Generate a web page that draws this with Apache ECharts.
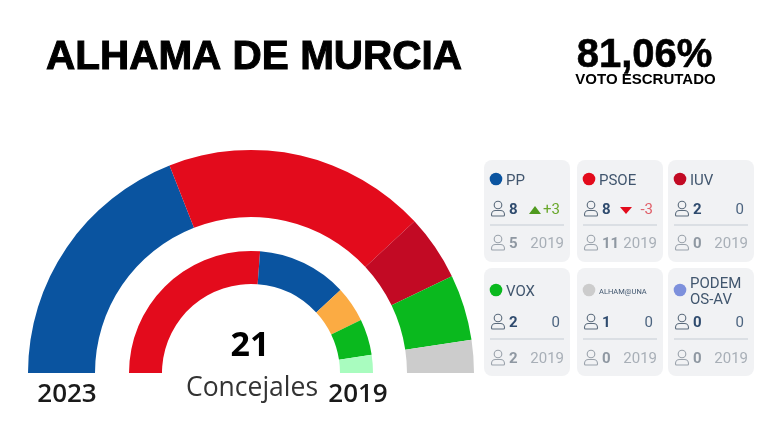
<!DOCTYPE html>
<html>
<head>
<meta charset="utf-8">
<style>
  html, body { margin: 0; padding: 0; background: #fff; }
  #chart { width: 760px; height: 427px; }
</style>
<script src="https://cdn.jsdelivr.net/npm/echarts@6/dist/echarts.min.js"></script>
</head>
<body>
<div id="chart"></div>
<script>
// hemiciclos
const parties2023 = ['PP', 'PSOE', 'IUV', 'VOX', 'ALHAM@UNA']
const seats2023 = [8, 8, 2, 2, 1]
const colors2023 = ['#0a54a0', '#e30b1c', '#c20a24', '#0ab91e', '#cccccc']

const parties2019 = ['PSOE', 'PP', 'Cs', 'VOX', 'Otros']
const seats2019 = [11, 5, 2, 2, 1]
const colors2019 = ['#e30b1c', '#0a54a0', '#fbab43', '#0ab91e', '#a9fcbf']

// tarjetas
const cardNames = ['PP', 'PSOE', 'IUV', 'VOX', 'ALHAM@UNA', 'PODEM\nOS-AV']
const cardColors = ['#0a54a0', '#e30b1c', '#c20a24', '#0ab91e', '#cccccc', '#7d90dc']
const cardSeats = [8, 8, 2, 2, 1, 0]
const cardDiffs = ['+3', '-3', '0', '0', '0', '0']
const cardPrev = [5, 11, 0, 2, 0, 0]

const cardX = [484, 577, 668]
const cardW = 86
const rows = [
  { top: 160, h: 102, dot: 19, icon: 49, line: 65, prev: 83 },
  { top: 268, h: 108, dot: 22, icon: 54, line: 71, prev: 90 },
]

function personIcon(x, cy, color) {
  return [
    { type: 'circle', shape: { cx: x, cy: cy - 4, r: 3.8 }, style: { fill: 'none', stroke: color, lineWidth: 1.1 }, silent: true },
    { type: 'rect', shape: { x: x - 6.5, y: cy + 1.5, width: 13, height: 5.5, r: [4, 4, 1, 1] }, style: { fill: 'none', stroke: color, lineWidth: 1.1 }, silent: true },
  ]
}

function label(x, y, text, size, color, extra) {
  return {
    type: 'text',
    silent: true,
    style: Object.assign({
      x, y, text,
      fontFamily: 'Roboto',
      fontSize: size,
      fill: color,
      align: 'left',
      verticalAlign: 'middle',
    }, extra),
  }
}

function buildCards() {
  const out = []
  cardNames.forEach((name, i) => {
    const x = cardX[i % 3]
    const row = rows[Math.floor(i / 3)]
    const y = row.top
    out.push({ type: 'rect', shape: { x, y, width: cardW, height: row.h, r: 8 }, style: { fill: '#f1f2f4' }, silent: true })
    const small = name.length > 8 && name.indexOf('\n') < 0
    out.push({ type: 'circle', shape: { cx: x + 12, cy: y + row.dot, r: 6.3 }, style: { fill: cardColors[i] }, silent: true })
    out.push(label(x + 22, y + row.dot + 2, name, small ? 7.5 : 15, '#41566e', { lineHeight: 16 }))

    out.push(...personIcon(x + 14, y + row.icon, '#5b6b7c'))
    out.push(label(x + 25, y + row.icon + 1, String(cardSeats[i]), 15, '#2f4b6e', { fontWeight: 'bold' }))
    const d = cardDiffs[i]
    const dColor = d === '+3' ? '#6aa82c' : d === '-3' ? '#e0606a' : '#4d6580'
    out.push(label(x + 76, y + row.icon + 1, d, 15, dColor, { align: 'right' }))
    if (d === '+3') {
      const tx = x + 51
      const ty = y + row.icon
      out.push({ type: 'polygon', shape: { points: [[tx - 6, ty + 5], [tx + 6, ty + 5], [tx, ty - 3]] }, style: { fill: '#4f9a1e' }, silent: true })
    }
    if (d === '-3') {
      const tx = x + 49
      const ty = y + row.icon
      out.push({ type: 'polygon', shape: { points: [[tx - 6, ty - 2], [tx + 6, ty - 2], [tx, ty + 5]] }, style: { fill: '#e30b1c' }, silent: true })
    }

    out.push({ type: 'line', shape: { x1: x + 6, y1: y + row.line, x2: x + 80, y2: y + row.line }, style: { stroke: '#c5cbd3', lineWidth: 1.2 }, silent: true })

    out.push(...personIcon(x + 14, y + row.prev, '#9aa2ab'))
    out.push(label(x + 25, y + row.prev + 1, String(cardPrev[i]), 15, '#8f98a2', { fontWeight: 'bold' }))
    out.push(label(x + 80, y + row.prev + 1, '2019', 15, '#a8afb7', { align: 'right' }))
  })
  return out
}

function pieData(names, seats, colors) {
  return names.map((name, i) => ({ name, value: seats[i], itemStyle: { color: colors[i] } }))
}

const chart = echarts.init(document.getElementById('chart'))

chart.setOption({
  animation: false,
  backgroundColor: '#ffffff',
  series: [
    {
      name: '2023',
      type: 'pie',
      center: [251, 373],
      radius: [156, 223],
      startAngle: 180,
      endAngle: 360,
      silent: true,
      label: { show: false },
      labelLine: { show: false },
      data: pieData(parties2023, seats2023, colors2023),
    },
    {
      name: '2019',
      type: 'pie',
      center: [251, 373],
      radius: [89, 122],
      startAngle: 180,
      endAngle: 360,
      silent: true,
      label: { show: false },
      labelLine: { show: false },
      data: pieData(parties2019, seats2019, colors2019),
    },
  ],
  graphic: [
    label(254, 58, 'ALHAMA DE MURCIA', 40.5, '#000', { fontFamily: 'Liberation Sans', fontWeight: 'bold', align: 'center', stroke: '#000', lineWidth: 1 }),
    label(644.5, 56, '81,06%', 40, '#000', { fontFamily: 'Liberation Sans', fontWeight: 'bold', align: 'center', stroke: '#000', lineWidth: 0.6 }),
    label(645.5, 80, 'VOTO ESCRUTADO', 15, '#000', { fontFamily: 'Liberation Sans', fontWeight: 'bold', align: 'center' }),
    label(250, 346, '21', 34, '#000', { fontFamily: 'Open Sans', fontWeight: 'bold', align: 'center' }),
    label(252, 388, 'Concejales', 26.5, '#333', { fontFamily: 'Open Sans', align: 'center' }),
    label(67, 395, '2023', 26, '#1a1a1a', { fontFamily: 'Open Sans', fontWeight: 600, align: 'center' }),
    label(358, 395, '2019', 26, '#1a1a1a', { fontFamily: 'Open Sans', fontWeight: 600, align: 'center' }),
    ...buildCards(),
  ],
})
</script>
</body>
</html>
